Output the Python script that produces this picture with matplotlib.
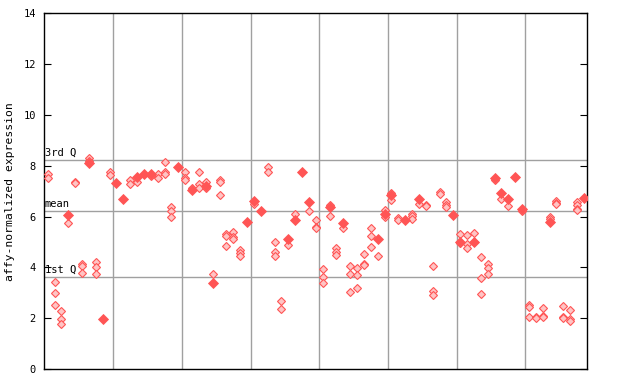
import matplotlib
matplotlib.use("Agg")
import matplotlib.pyplot as plt

# replicate values per sample column (hollow markers)
reps = [
    [7.67, 7.52], [3.41, 2.98, 2.52], [2.27, 1.95, 1.77], [5.73], [7.38, 7.31],
    [4.12, 4.05, 3.76], [8.32, 8.2], [4.20, 4.02, 3.74], [], [7.75, 7.62],
    [], [], [7.45, 7.27], [7.35], [],
    [7.58], [7.69, 7.5], [8.13, 7.75, 7.68], [6.38, 6.2, 5.97], [],
    [7.75, 7.5, 7.45], [7.14], [7.77, 7.30, 7.11], [7.35, 7.12], [3.72],
    [7.43, 7.37, 6.85], [5.31, 5.25, 4.85], [5.4, 5.18, 5.12], [4.68, 4.55, 4.44], [],
    [6.49], [], [7.95, 7.77], [4.98, 4.61, 4.46], [2.66, 2.35],
    [4.87], [6.12], [], [6.2], [5.85, 5.6, 5.55],
    [3.92, 3.64, 3.37], [6.45, 6.04], [4.75, 4.6, 4.5], [5.56], [4.04, 3.72, 3.02],
    [3.96, 3.68, 3.17], [4.51, 4.12, 4.08], [5.54, 5.22, 4.79], [4.43], [6.25, 6.0],
    [6.91, 6.65], [5.93, 5.85], [], [6.1, 6.02, 5.91], [6.51],
    [6.47, 6.4], [4.04, 3.08, 2.9], [6.98, 6.9], [6.57, 6.47, 6.36], [],
    [5.30, 4.97], [5.26, 4.93, 4.75], [5.37, 4.98], [4.39, 3.60, 2.94], [4.12, 3.96, 3.72],
    [7.45], [6.71], [6.43], [], [6.2],
    [2.52, 2.44, 2.03], [2.05, 2.0], [2.42, 2.1, 2.05], [6.0, 5.9], [6.62, 6.55, 6.5],
    [2.46, 2.06, 2.0], [2.31, 1.98, 1.88], [6.57, 6.45, 6.3, 6.25], [],
]

# highlighted value per sample column (filled markers), None if absent
highlight = [
    None, None, None, 6.07, None, None, 8.09, None, 1.97, None,
    7.33, 6.69, None, 7.56, 7.66, 7.69, None, None, None, 7.97,
    None, 7.05, None, 7.2, 3.39, None, None, None, None, 5.77,
    6.61, 6.23, None, None, None, 5.11, 5.86, 7.76, 6.57, None,
    None, 6.38, None, 5.75, None, None, None, None, 5.13, 6.1,
    6.85, None, 5.85, None, 6.70, None, None, None, None, 6.06,
    5.01, None, 5.0, None, None, 7.52, 6.94, 6.70, 7.55, 6.28,
    None, None, None, 5.8, None, None, None, None, 6.75,
]

q1, mean, q3 = 3.62, 6.21, 8.22
group_size = 10
red = "#ff5555"

fig = plt.figure(figsize=(6.4, 3.84), dpi=100)
ax = fig.add_axes([0.0692, 0.0391, 0.8485, 0.9262])
n = len(reps)

hx, hy = [], []
for i, vals in enumerate(reps):
    for v in vals:
        hx.append(i)
        hy.append(v)
fx = [i for i, v in enumerate(highlight) if v is not None]
fy = [v for v in highlight if v is not None]

for b in range(group_size, n, group_size):
    ax.axvline(b - 0.5, color="#a0a0a0", lw=1, zorder=1)
for q in (q1, mean, q3):
    ax.axhline(q, color="#a0a0a0", lw=1, zorder=1)

ax.plot(hx, hy, "D", ms=4.2, mfc="#ffc4c4", mec=red, mew=0.8, ls="none", zorder=3)
ax.plot(fx, fy, "D", ms=5.2, mfc=red, mec=red, mew=0.6, ls="none", zorder=4)

font = dict(family="DejaVu Sans Mono", size=7.5)
for q, lab in ((q3, "3rd Q"), (mean, "mean"), (q1, "1st Q")):
    ax.text(-0.4, q + 0.08, lab, ha="left", va="bottom", **font)

ax.set_xlim(-0.5, n - 0.5)
ax.set_ylim(0, 14)
ax.set_yticks(range(0, 15, 2))
ax.set_yticklabels([str(t) for t in range(0, 15, 2)], **font)
ax.set_xticks([])
ax.tick_params(axis="y", direction="in", length=5, right=True, pad=6)
ax.set_ylabel("affy-normalized expression", labelpad=6,
              family="DejaVu Sans Mono", size=8.2)
for s in ax.spines.values():
    s.set_linewidth(1)

fig.savefig("out.png", dpi=100)
